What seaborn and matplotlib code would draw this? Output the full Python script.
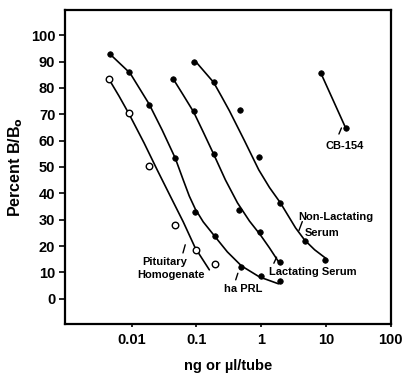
import numpy as np
import pandas as pd
import matplotlib
matplotlib.use("Agg")
import matplotlib.pyplot as plt
import seaborn as sns

# measured points (dose in ng or ul per tube, percent B/Bo)
pit_x = [0.0045, 0.009, 0.0186, 0.047, 0.098, 0.19]
pit_y = [83.3, 70.3, 50.4, 28.0, 18.6, 13.1]

hprl_x = [0.0046, 0.0092, 0.0186, 0.046, 0.095, 0.19, 0.48, 0.98, 1.95]
hprl_y = [92.9, 85.9, 73.6, 53.4, 33.1, 23.9, 12.0, 8.8, 6.6]

lact_x = [0.044, 0.093, 0.186, 0.46, 0.97, 1.95]
lact_y = [83.3, 71.2, 54.9, 33.7, 25.3, 14.1]

nonlact_x = [0.093, 0.186, 0.47, 0.91, 1.95, 4.8, 9.8]
nonlact_y = [89.9, 82.3, 71.6, 53.9, 36.5, 22.1, 14.8]

cb_x = [8.4, 20.3]
cb_y = [85.5, 64.7]

# hand drawn fitted curves
pit_curve_x = [0.00444, 0.00635, 0.00908, 0.0155, 0.0247, 0.0393, 0.0624, 0.0957, 0.158]
pit_curve_y = [83.3, 76.9, 70.1, 59.1, 48.9, 39.0, 29.2, 19.3, 11.0]

hprl_curve_x = [0.00461, 0.00941, 0.0185, 0.0295, 0.0469, 0.0624, 0.0773, 0.0957,
                0.127, 0.189, 0.30, 0.495, 0.942, 1.85]
hprl_curve_y = [92.8, 85.6, 73.9, 64.0, 53.4, 45.1, 39.0, 34.1,
                29.2, 23.9, 17.8, 12.5, 8.3, 5.7]

lact_curve_x = [0.0442, 0.0624, 0.0902, 0.127, 0.184, 0.28, 0.43, 0.659, 0.975, 1.345, 1.85]
lact_curve_y = [83.2, 77.3, 70.9, 63.3, 54.9, 45.1, 36.4, 29.5, 24.2, 19.3, 14.1]

nonlact_curve_x = [0.0948, 0.132, 0.184, 0.242, 0.323, 0.551, 0.918, 1.345, 1.97,
                   3.40, 4.69, 6.70, 9.93]
nonlact_curve_y = [90.3, 86.2, 82.1, 76.9, 71.3, 60.0, 48.9, 42.2, 36.5,
                   26.9, 22.3, 18.6, 15.4]

xticks = [0.01, 0.1, 1, 10, 100]
xtick_labels = ["0.01", "0.1", "1", "10", "100"]
yticks = list(range(0, 101, 10))

sns.set_style("ticks")
plt.rcParams["font.family"] = ["Liberation Sans", "DejaVu Sans"]
plt.rcParams["font.weight"] = "bold"
plt.rcParams["text.color"] = "black"
plt.rcParams["axes.edgecolor"] = "black"
plt.rcParams["axes.labelcolor"] = "black"
plt.rcParams["xtick.color"] = "black"
plt.rcParams["ytick.color"] = "black"

fig = plt.figure(figsize=(4.09, 3.74), dpi=100)
ax = fig.add_axes([0.159, 0.134, 0.796, 0.839])

line_kw = dict(color="black", linewidth=1.2, sort=False, estimator=None, ax=ax)
for cx, cy in [(pit_curve_x, pit_curve_y), (hprl_curve_x, hprl_curve_y),
               (lact_curve_x, lact_curve_y), (nonlact_curve_x, nonlact_curve_y),
               (cb_x, cb_y)]:
    sns.lineplot(x=cx, y=cy, **line_kw)
for l in ax.lines:
    l.set_solid_joinstyle("round")

filled = pd.DataFrame({
    "dose": hprl_x + lact_x + nonlact_x + cb_x,
    "pct": hprl_y + lact_y + nonlact_y + cb_y,
})
sns.scatterplot(data=filled, x="dose", y="pct", color="black", s=16,
                edgecolor="black", linewidth=0.5, ax=ax, zorder=3)
sns.scatterplot(x=pit_x, y=pit_y, facecolor="white", edgecolor="black",
                s=22, linewidth=1.0, ax=ax, zorder=3)

ax.set_xscale("log")
ax.set_xlim(0.00093, 100)
ax.set_ylim(-9.5, 109.5)
ax.set_xticks(xticks)
ax.set_xticklabels(xtick_labels)
ax.minorticks_off()
ax.set_yticks(yticks)
ax.tick_params(axis="y", length=4, width=1.2, labelsize=10.5, pad=3)
ax.tick_params(axis="x", length=2.5, width=1.2, labelsize=10.5, pad=4)
for lab in ax.get_xticklabels() + ax.get_yticklabels():
    lab.set_fontweight("bold")
for sp in ax.spines.values():
    sp.set_linewidth(1.6)
    sp.set_color("black")
    sp.set_visible(True)

ax.set_xlabel("ng or \u00b5l/tube", fontsize=10.5, fontweight="bold", labelpad=9)
ax.set_ylabel("Percent B/B$_\\mathbf{o}$", fontsize=11.5, fontweight="bold", labelpad=4)

# curve labels and their little leader strokes
label_fs = 8
ax.text(19.5, 58, "CB-154", fontsize=label_fs, fontweight="bold", ha="center", va="center")
ax.text(14.2, 31.1, "Non-Lactating", fontsize=label_fs, fontweight="bold", ha="center", va="center")
ax.text(8.6, 25.0, "Serum", fontsize=label_fs, fontweight="bold", ha="center", va="center")
ax.text(6.27, 10.2, "Lactating Serum", fontsize=label_fs, fontweight="bold", ha="center", va="center")
ax.text(0.532, 3.8, "ha PRL", fontsize=label_fs, fontweight="bold", ha="center", va="center")
ax.text(0.0328, 14.0, "Pituitary", fontsize=label_fs, fontweight="bold", ha="center", va="center")
ax.text(0.0407, 9.1, "Homogenate", fontsize=label_fs, fontweight="bold", ha="center", va="center")

strokes = [
    ((15.9, 17.4), (62.5, 64.8)),
    ((3.83, 4.32), (25.9, 29.3)),
    ((1.57, 1.73), (13.5, 15.8)),
    ((0.404, 0.436), (7.2, 9.7)),
    ((0.0618, 0.067), (17.4, 20.5)),
]
for sx, sy in strokes:
    ax.plot(sx, sy, color="black", linewidth=1.0)

fig.savefig("out.png", dpi=100)
